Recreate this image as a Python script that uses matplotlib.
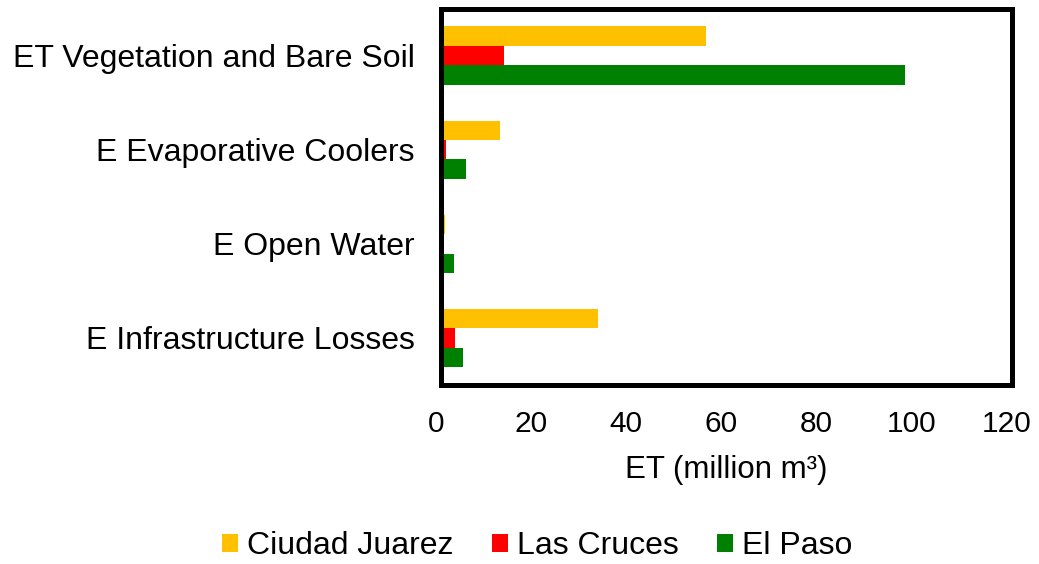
import matplotlib
matplotlib.use("Agg")
import matplotlib.pyplot as plt
import matplotlib.transforms as mtransforms
import numpy as np

categories = ["ET Vegetation and Bare Soil", "E Evaporative Coolers", "E Open Water", "E Infrastructure Losses"]
series_names = ["Ciudad Juarez", "Las Cruces", "El Paso"]
ciudad_juarez = [55.7, 12.4, 0.8, 33.0]
las_cruces = [13.2, 1.0, 0.6, 2.9]
el_paso = [97.5, 5.3, 2.7, 4.6]
colors = ["#FFC000", "#FF0000", "#008000"]
xticks = [0, 20, 40, 60, 80, 100, 120]

plt.rcParams['font.family'] = ['Liberation Sans', 'DejaVu Sans']

fig = plt.figure(figsize=(10.39, 5.64), dpi=100)
ax = fig.add_axes([441/1039, 1-385/564, (1012-441)/1039, (385-8.5)/564])

y = np.arange(len(categories))
h = 0.206
for i, (vals, name, c) in enumerate(zip([ciudad_juarez, las_cruces, el_paso], series_names, colors)):
    ax.barh(y + (i-1)*h, vals, height=h, color=c, label=name)

ax.set_xlim(0, 120)
ax.set_ylim(3.5, -0.5)
ax.set_xticks(xticks)
ax.set_yticks(y)
ax.set_yticklabels(categories)
ax.tick_params(axis='both', length=0)
ax.tick_params(axis='y', pad=19, labelsize=23)
ax.tick_params(axis='x', pad=18, labelsize=21.5)
shift = mtransforms.ScaledTranslation(-5/100, 0, fig.dpi_scale_trans)
for lbl in ax.get_xticklabels():
    lbl.set_transform(lbl.get_transform() + shift)
for s in ax.spines.values():
    s.set_linewidth(3.6)
ax.set_xlabel("ET (million m\u00b3)", fontsize=22.5, labelpad=12)

fig.legend(loc='center', bbox_to_anchor=(537/1039, 1-546/564), ncol=3, frameon=False,
           fontsize=23, handlelength=0.5, handleheight=0.5, handletextpad=0.28, columnspacing=1.2)

fig.savefig("out.png", dpi=100)
